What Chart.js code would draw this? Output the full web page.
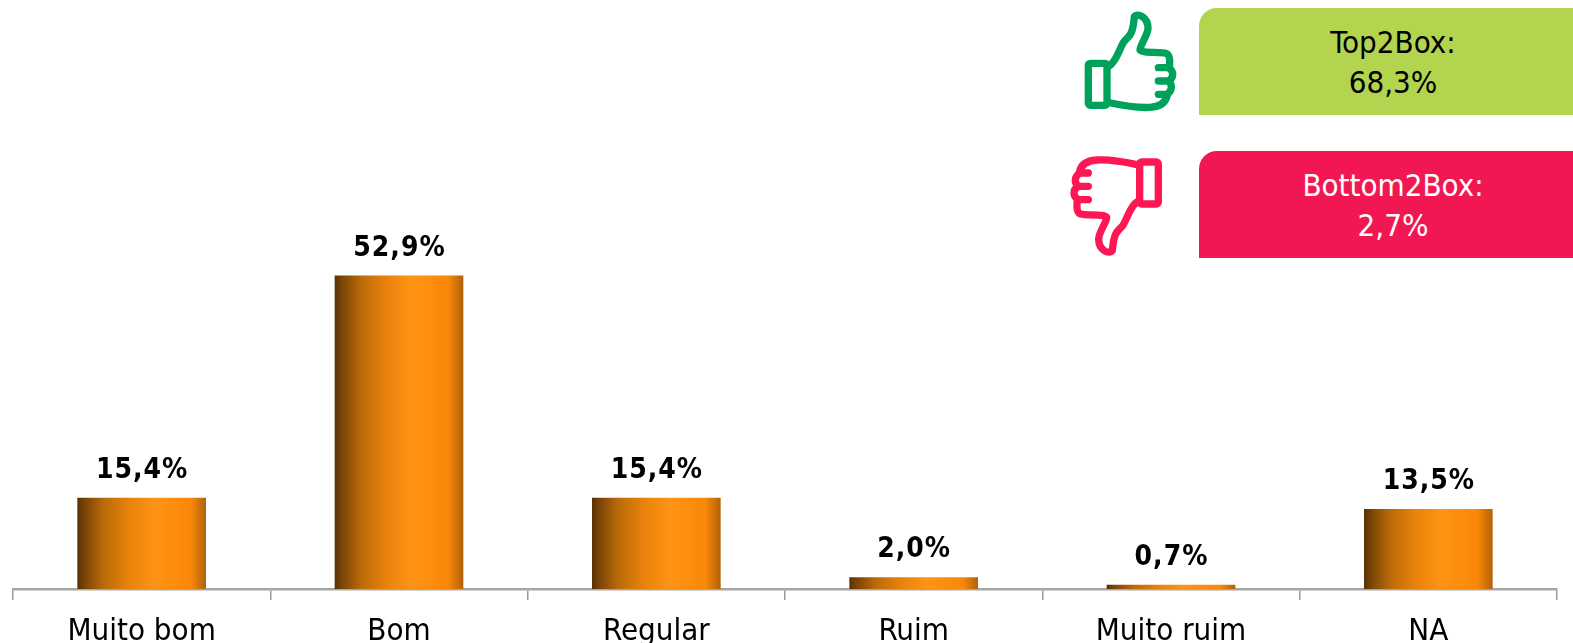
<!DOCTYPE html>
<html><head><meta charset="utf-8">
<style>
html,body{margin:0;padding:0;background:#fff;width:1573px;height:643px;overflow:hidden}
#c{position:absolute;left:0;top:0}
.box{position:absolute;left:1199px;width:374px;height:107px;border-top-left-radius:18px;text-align:center;font:31px/40px "DejaVu Sans Condensed","DejaVu Sans",sans-serif;padding-top:14px;padding-left:14px;box-sizing:border-box}
svg{position:absolute;left:1060px;width:125px;fill:none;stroke-width:22;stroke-linecap:round;stroke-linejoin:round}
</style></head><body>
<canvas id="c" width="1573" height="643"></canvas>
<div class="box" style="top:8px;background:#B2D44E;color:#000">Top2Box:<br>68,3%</div>
<div class="box" style="top:150.5px;background:#F21752;color:#fff">Bottom2Box:<br>2,7%</div>
<svg style="top:0;height:125px" viewBox="0 0 375 375" stroke="#00A25B"><rect x="85" y="190" width="56" height="126" rx="6"/><path d="M148 197C170 185 178 145 192 125C205 108 218 112 223 50C232 38 264 50 264 85C264 105 240 135 240 150C244 160 300 155 318 160C332 165 330 185 328 200M295 203H325C345 215 340 235 325 243H295M325 243C340 255 335 275 320 283H295M322 285C318 305 305 320 270 322C225 325 180 315 148 308"/></svg>
<svg style="top:145px;height:125px" viewBox="0 0 375 375" stroke="#FF1654"><g transform="translate(380,367) rotate(180)"><rect x="85" y="190" width="56" height="126" rx="6"/><path d="M148 197C170 185 178 145 192 125C205 108 218 112 223 50C232 38 264 50 264 85C264 105 240 135 240 150C244 160 300 155 318 160C332 165 330 185 328 200M295 203H325C345 215 340 235 325 243H295M325 243C340 255 335 275 320 283H295M322 285C318 305 305 320 270 322C225 325 180 315 148 308"/></g></svg>
<script src="https://cdn.jsdelivr.net/npm/chart.js@4"></script>
<script>
const categories = ["Muito bom","Bom","Regular","Ruim","Muito ruim","NA"];
const values = [15.4,52.9,15.4,2.0,0.7,13.5];
const valueLabels = ["15,4%","52,9%","15,4%","2,0%","0,7%","13,5%"];

const barFill = (ctx) => {
  const chart = ctx.chart;
  if (!chart.chartArea || ctx.dataIndex === undefined) return '#F88A10';
  const xs = chart.scales.x;
  const band = (xs.right - xs.left) / categories.length * 0.5;
  const cx = xs.getPixelForValue(ctx.dataIndex);
  const g = chart.ctx.createLinearGradient(cx - band/2, 0, cx + band/2, 0);
  g.addColorStop(0, '#5A3104');
  g.addColorStop(0.06, '#7A4506');
  g.addColorStop(0.2, '#B96A08');
  g.addColorStop(0.4, '#E8820C');
  g.addColorStop(0.6, '#FF9414');
  g.addColorStop(0.88, '#FB8808');
  g.addColorStop(1, '#B0620A');
  return g;
};

const valueLabelPlugin = {
  id: 'valueLabels',
  afterDatasetsDraw(chart) {
    const c = chart.ctx, meta = chart.getDatasetMeta(0);
    c.save();
    c.font = 'bold 28px "DejaVu Sans Condensed","DejaVu Sans",sans-serif';
    c.letterSpacing = '1px';
    c.fillStyle = '#000';
    c.textAlign = 'center';
    c.textBaseline = 'alphabetic';
    meta.data.forEach((bar, i) => c.fillText(valueLabels[i], bar.x + 0.5, bar.y - 20));
    c.restore();
  }
};

new Chart(document.getElementById('c'), {
  type: 'bar',
  data: { labels: categories, datasets: [{ data: values, backgroundColor: barFill, barPercentage: 0.5, categoryPercentage: 1 }] },
  options: {
    responsive: false, animation: false,
    layout: { padding: { left: 13, right: 16, top: 0, bottom: 0 } },
    plugins: { legend: { display: false }, tooltip: { enabled: false } },
    scales: {
      y: { display: false, min: 0, max: 99.4 },
      x: {
        afterFit(s) { s.height = 54; },
        grid: { display: true, drawOnChartArea: false, drawTicks: true, tickLength: 11, color: '#999999', lineWidth: 1.5 },
        border: { display: true, color: '#A6A6A6', width: 2.5 },
        ticks: { color: '#000', padding: 13, maxRotation: 0, autoSkip: false, font: { size: 31, family: '"DejaVu Sans Condensed","DejaVu Sans",sans-serif' } }
      }
    }
  },
  plugins: [valueLabelPlugin]
});
</script>
</body></html>
